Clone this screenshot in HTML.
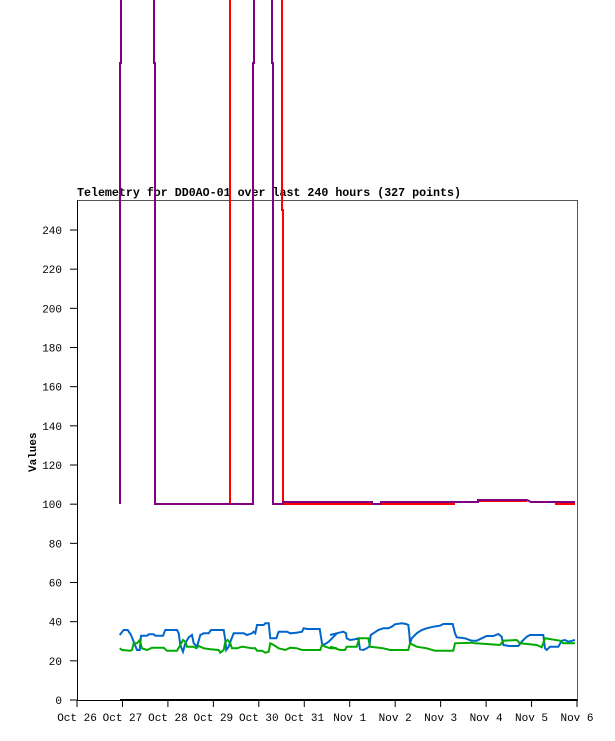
<!DOCTYPE html>
<html><head><meta charset="utf-8"><style>
html,body{margin:0;padding:0;background:#fff;width:615px;height:741px;overflow:hidden}
svg{display:block}
text{font-family:"Liberation Mono",monospace;font-size:11px;fill:#000}
</style></head><body>
<svg id="s" width="615" height="741" xmlns="http://www.w3.org/2000/svg">
<text x="77" y="196" style="font-weight:bold;font-size:12px" textLength="384" lengthAdjust="spacingAndGlyphs">Telemetry for DD0AO-01 over last 240 hours (327 points)</text>
<line x1="77" y1="200.5" x2="577" y2="200.5" stroke="#555"/>
<line x1="577.5" y1="200" x2="577.5" y2="700" stroke="#555"/>
<line x1="77.5" y1="200" x2="77.5" y2="701" stroke="#000"/>
<line x1="77" y1="700.5" x2="578" y2="700.5" stroke="#000"/>
<line x1="120" y1="700" x2="577" y2="700" stroke="#000" stroke-width="2"/>
<text x="36" y="472" transform="rotate(-90 36 472)" style="font-weight:bold">Values</text>
<polyline fill="none" stroke="#ff0000" stroke-width="2" points="230,0 230,504 231,504"/>
<polyline fill="none" stroke="#ff0000" stroke-width="2" points="282,0 282,210 283,210 283,504 455,504"/>
<polyline fill="none" stroke="#ff0000" stroke-width="2" points="478,501 527,501"/>
<polyline fill="none" stroke="#ff0000" stroke-width="2" points="555,504 575,504"/>
<polyline fill="none" stroke="#800080" stroke-width="2" points="121,0 121,63 120,63 120,504"/>
<polyline fill="none" stroke="#800080" stroke-width="2" points="154,0 154,63 155,63 155,504 253,504 253,63 254,63 254,0"/>
<polyline fill="none" stroke="#800080" stroke-width="2" points="272,0 272,63 273,63 273,504 283,504 283,502 372,502 372,504 381,504 381,502 478,502 478,500 527,500 531,502 575,502"/>
<polyline id="b1" fill="none" stroke="#0066cc" stroke-width="2"/>
<polyline id="g1" fill="none" stroke="#00aa00" stroke-width="2"/>
</svg>
<script>
var s=document.getElementById('s'),NS='http://www.w3.org/2000/svg';
function el(t,a,txt){var e=document.createElementNS(NS,t);for(var k in a)e.setAttribute(k,a[k]);if(txt)e.textContent=txt;s.appendChild(e);}
for(var v=0;v<=240;v+=20){var y=700-v*1.9583;el('line',{x1:70,y1:y,x2:77,y2:y,stroke:'#000'});el('text',{x:62,y:y+4,'text-anchor':'end'},String(v));}
var lab=['Oct 26','Oct 27','Oct 28','Oct 29','Oct 30','Oct 31','Nov 1','Nov 2','Nov 3','Nov 4','Nov 5','Nov 6'];
for(var i=0;i<12;i++){var x=77+i*500/11;el('line',{x1:x,y1:700,x2:x,y2:707,stroke:'#000'});el('text',{x:x,y:721,'text-anchor':'middle'},lab[i]);}
function pts(a,ox,oy){var r=[];for(var i=0;i<a.length;i+=2)r.push((ox+a[i]/3).toFixed(1)+','+(oy+a[i+1]/3).toFixed(1));return r;}
var b2=[128,105,140,90,152,90,162,105,170,125,180,150,188,150,192,107,210,107,215,103,230,103,235,107,258,107,265,90,300,90,305,100,310,135,318,155,325,130,335,112,345,105,350,130,360,140,370,105,380,100,395,100,402,90,440,90,445,120,448,150,455,140,462,120,470,100,500,100,510,105,525,100,530,95,535,100,540,75,560,75,565,70,575,70,580,115,598,115,605,95,630,95,640,100,658,98,675,95,680,85,690,87,728,87,735,130,740,135,755,125,780,100];
var g2=[128,145,135,150,160,152,165,150,170,130,180,130,188,120,195,145,210,150,225,143,260,143,270,152,300,152,310,135,318,120,325,125,330,140,350,140,358,145,365,138,370,140,380,145,400,148,425,150,430,158,440,150,445,125,452,120,460,130,465,145,480,145,495,140,525,145,535,145,540,152,555,152,565,158,575,155,580,130,590,135,605,145,625,150,640,143,660,145,675,150,730,150,735,135,745,140,760,145,780,145];
var b3=[0,105,20,100,40,95,48,100,50,115,60,120,75,118,85,115,90,148,100,150,110,145,118,140,122,105,130,100,145,90,160,85,175,85,185,80,195,73,215,70,228,72,235,75,238,100,240,130,245,115,260,100,275,90,290,85,310,80,330,77,340,72,368,72,375,100,380,112,405,115,425,122,440,122,455,115,470,108,490,108,505,102,515,110,520,135,538,138,565,138,575,125,590,110,600,105,640,105,645,145,650,150,660,140,685,140,695,122,705,120,715,125,735,120];
var g3=[0,140,30,150,45,150,50,140,80,140,88,115,115,115,120,140,160,145,180,150,235,150,240,130,260,140,290,145,315,152,335,152,370,152,375,130,425,128,435,130,470,132,510,135,520,122,560,120,570,130,620,135,635,142,645,115,690,122,700,130,735,130];
document.getElementById('b1').setAttribute('points',pts(b2,77,600).concat(pts(b3,330,600)).join(' '));
document.getElementById('g1').setAttribute('points',pts(g2,77,600).concat(pts(g3,330,600)).join(' '));
</script>
</body></html>
